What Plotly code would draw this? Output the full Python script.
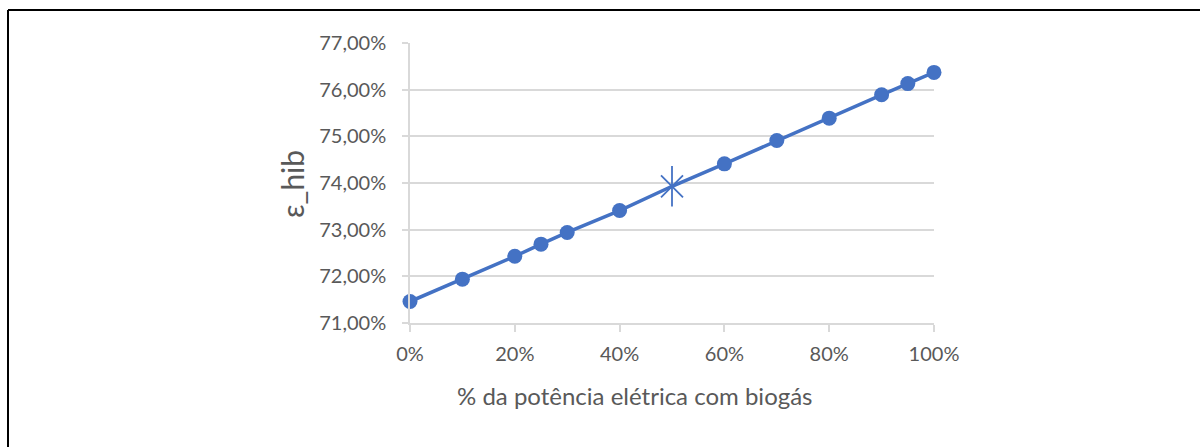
import plotly.graph_objects as go

# Share of electric power from biogas (fraction) and hybrid efficiency (fraction)
share = [0.0, 0.10, 0.20, 0.25, 0.30, 0.40, 0.50, 0.60, 0.70, 0.80, 0.90, 0.95, 1.00]
eff = [0.7146, 0.7194, 0.7243, 0.7269, 0.7294, 0.7341, 0.7393, 0.7441, 0.7491,
       0.7539, 0.7589, 0.7613, 0.7637]
highlight = 0.50  # operating point shown with a star

x_ticks = [0.0, 0.2, 0.4, 0.6, 0.8, 1.0]
y_ticks = [0.71, 0.72, 0.73, 0.74, 0.75, 0.76, 0.77]

BLUE = "#4472C4"
GRID = "#D9D9D9"
TXT = "#595959"
FONT = "Lato, 'Open Sans', sans-serif"

dot_x = [s for s in share if s != highlight]
dot_y = [e for s, e in zip(share, eff) if s != highlight]
star_x = [s for s in share if s == highlight]
star_y = [e for s, e in zip(share, eff) if s == highlight]

fig = go.Figure()
fig.add_trace(go.Scatter(x=share, y=eff, mode="lines", cliponaxis=False,
                         line=dict(color=BLUE, width=3.5), hoverinfo="skip"))
fig.add_trace(go.Scatter(x=dot_x, y=dot_y, mode="markers", cliponaxis=False,
                         marker=dict(symbol="circle", size=15, color=BLUE)))
# star: vertical bar plus an X
fig.add_trace(go.Scatter(x=star_x, y=star_y, mode="markers", cliponaxis=False,
                         marker=dict(symbol="line-ns-open", size=29, color=BLUE,
                                     line=dict(color=BLUE, width=1.8))))
fig.add_trace(go.Scatter(x=star_x, y=star_y, mode="markers", cliponaxis=False,
                         marker=dict(symbol="x-thin-open", size=22, color=BLUE,
                                     line=dict(color=BLUE, width=1.8))))

L, R, T, B = 410, 266, 43, 124
W, H = 1200, 447
pw, ph = W - L - R, H - T - B

def px(xp):
    return (xp - L) / pw

def py(yp):
    return (H - B - yp) / ph

fig.update_layout(
    width=W, height=H,
    margin=dict(l=L, r=R, t=T, b=B),
    paper_bgcolor="white", plot_bgcolor="white",
    showlegend=False,
    separators=",.",
    font=dict(family=FONT, color=TXT, size=20),
    xaxis=dict(range=[0, 1], tickvals=x_ticks, tickformat=".0%",
               showgrid=False, zeroline=False,
               showline=True, linecolor=GRID, linewidth=1.5,
               ticks="outside", ticklen=7, tickcolor=GRID, tickwidth=1.5,
               ticklabelstandoff=5,
               tickfont=dict(size=20, color=TXT, family=FONT)),
    yaxis=dict(range=[0.71, 0.77], tickvals=y_ticks, tickformat=".2%",
               showgrid=True, gridcolor=GRID, gridwidth=1.5, zeroline=False,
               showline=True, linecolor=GRID, linewidth=1.5,
               ticks="outside", ticklen=6, tickcolor=GRID, tickwidth=1.5,
               ticklabelstandoff=12,
               tickfont=dict(size=20, color=TXT, family=FONT)),
    annotations=[
        dict(text="% da potência elétrica com biogás", xref="paper", yref="paper",
             x=px(634), y=py(395), showarrow=False, xanchor="center", yanchor="middle",
             font=dict(size=24, color=TXT, family=FONT)),
        dict(text="ε_hib", xref="paper", yref="paper", textangle=-90,
             x=px(292), y=py(184), showarrow=False, xanchor="center", yanchor="middle",
             font=dict(size=30, color=TXT, family=FONT)),
    ],
    shapes=[
        dict(type="line", xref="paper", yref="paper",
             x0=px(8), y0=py(10), x1=px(1205), y1=py(10),
             line=dict(color="black", width=2)),
        dict(type="line", xref="paper", yref="paper",
             x0=px(8), y0=py(10), x1=px(8), y1=py(452),
             line=dict(color="black", width=2)),
    ],
)

fig.write_html("out.html")
